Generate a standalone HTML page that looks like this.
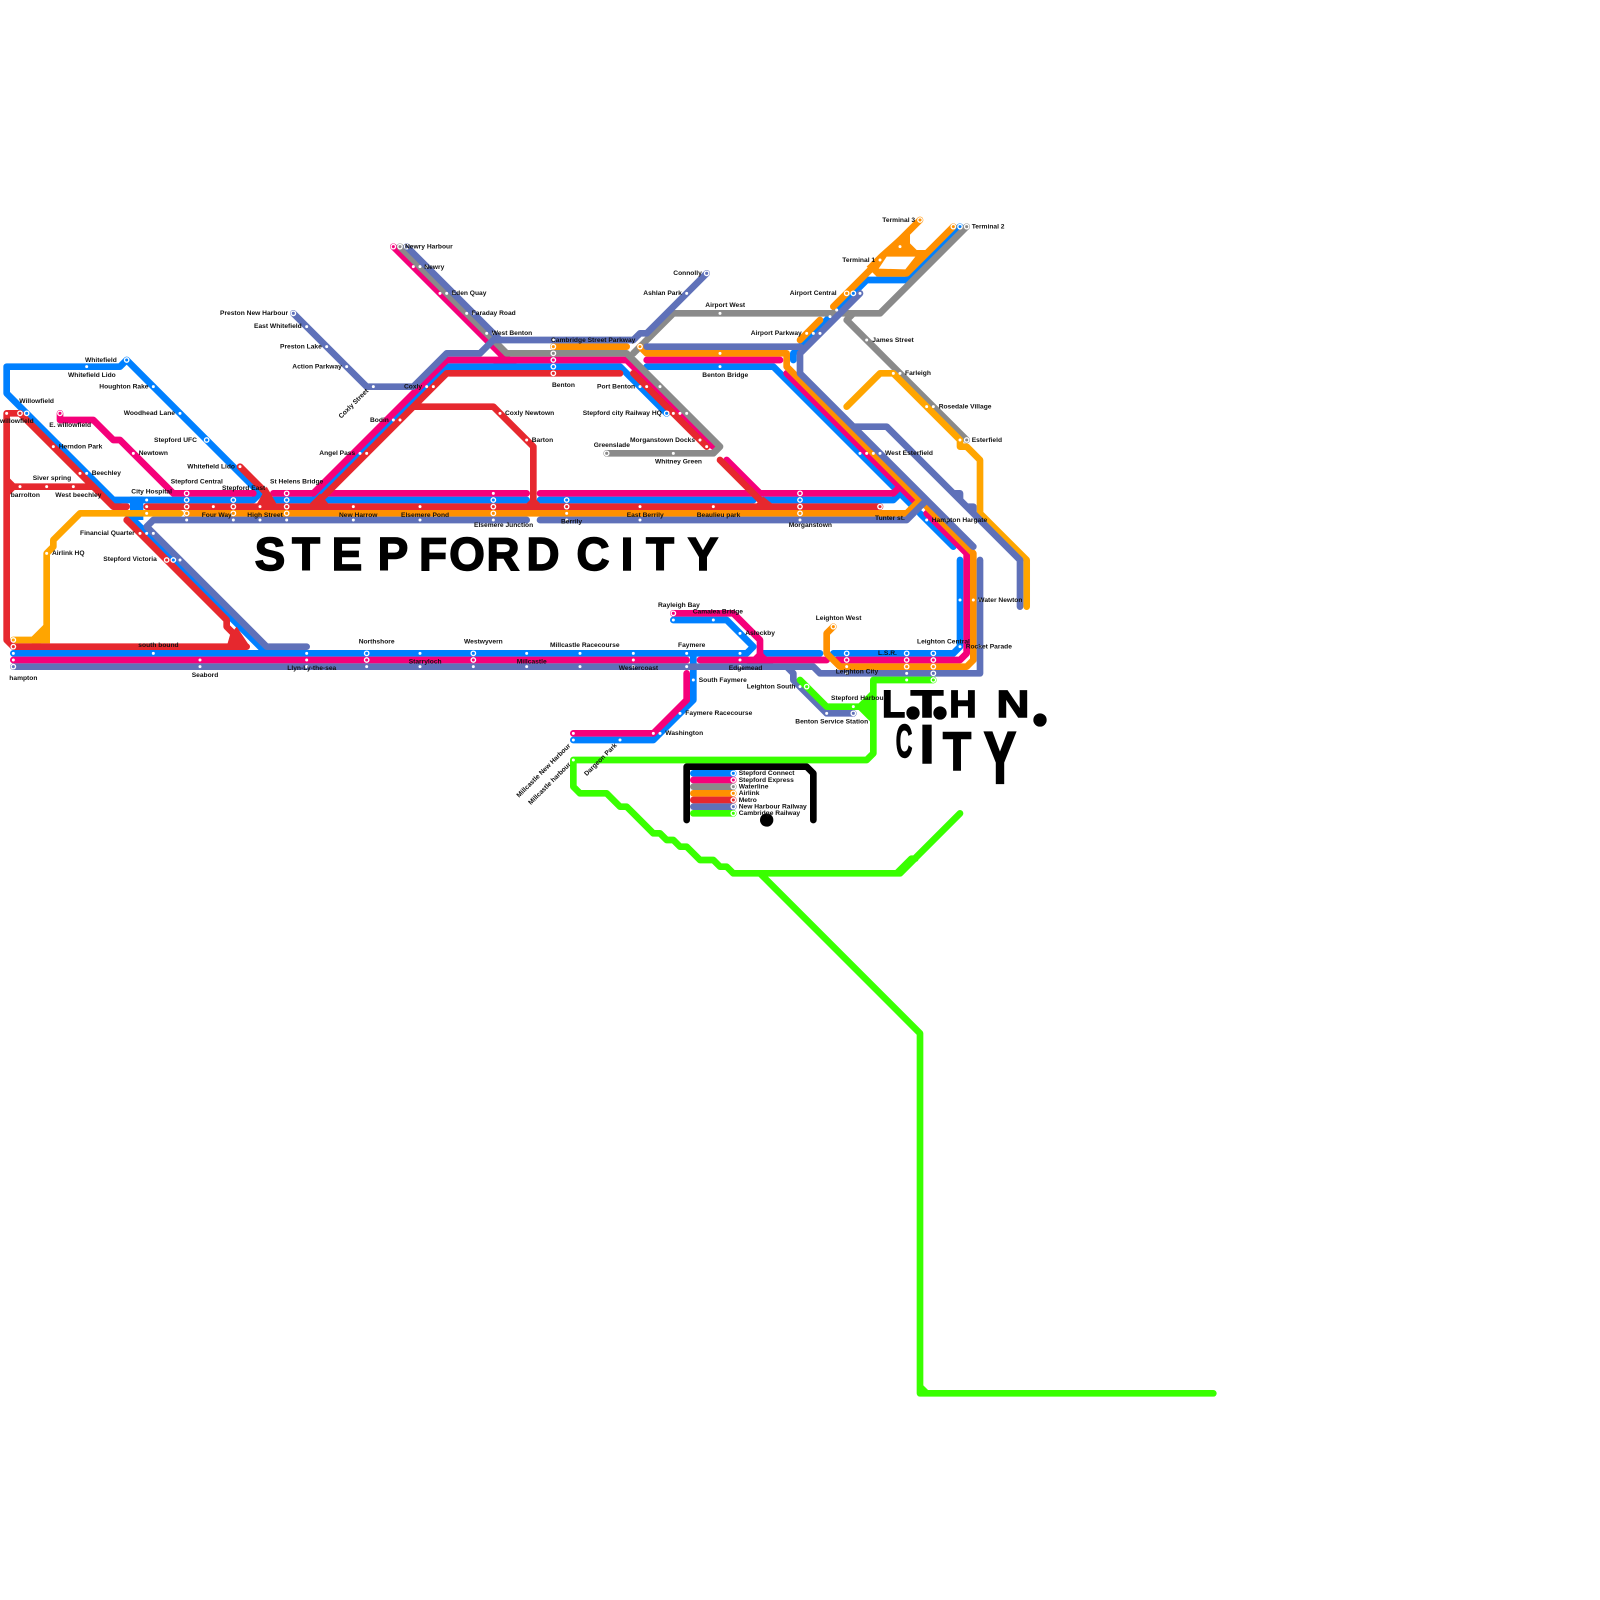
<!DOCTYPE html>
<html><head><meta charset="utf-8"><title>Stepford City</title>
<style>
html,body{margin:0;padding:0;background:#fff}
svg{display:block}
.lb text{font:bold 6.67px "Liberation Sans",sans-serif;fill:#111}
.tt text{font-family:"Liberation Sans",sans-serif;font-weight:bold;fill:#000;stroke:#000;stroke-width:1.4px}
</style></head><body>
<svg xmlns="http://www.w3.org/2000/svg" width="1600" height="1600" viewBox="0 0 1600 1600">
<rect width="1600" height="1600" fill="#fff"/>
<g transform="scale(6.6667)" fill="none" stroke-width="1" stroke-linecap="round" stroke-linejoin="round">
<!-- Stepford Connect -->
<path stroke="#0080ff" d="M19,54L18,55L1,55L1,59L40,98L46,98M19,54L38,73L39,74L38,75L17,75M41,75L47,75L67,55L93,55L100,62M49,75L79,75M81,75L113,75M114,75L134,75L135,74M97,55L116,55L137,76M138,77L143,82M119,54L119,53L130,42L136,42L144,34M2,98L112,98L113,97L109,93L101,93M114,98L123,98M125,98L143,98L144,97L144,84M104,98L104,105L98,111L86,111"/>
<path stroke="#0080ff" stroke-width="2" stroke-linecap="butt" d="M20.5,74.5L20.5,78"/>
<!-- Stepford Express -->
<path stroke="#f5007a" d="M9,62L9,63L14,63L17,66L18,66L26,74L38,74M41,74L47,74L67,54L94,54L107,67M49,74L79,74M81,74L134,74L135,73M59,37L76,54L75,54M109,69L114,74M97,54L117,54M118,56L137,75M139,77L145,83L145,98L144,99L125.5,99M2,99L103,99M105,99L124,99M101,92L110,92L114,96L114,99M103,101L103,105L98,110L86,110"/>
<path fill="#f5007a" stroke="none" d="M112,99.5L113.5,98L114.5,98L116,99.5ZM74,54.5L75.5,52.5L77.5,54.5Z"/>
<!-- Waterline -->
<path stroke="#8a8a8a" d="M60,37L76,53L94,53L108,67L107,68L91,68M95,53L101,47L132,47L145,34M128,47L127,48L145,66"/>
<!-- Airlink -->
<path stroke="#ff9000" d="M28,77L136,77L138,75L118,55L118,53L97,53L96,52M83,52L94,52M125,94L124,95L124,98L126,100L145,100L146,99L146,83L139,76M120,51L123,48M125,46L138,33M143,34L136,41L132,41"/>
<path fill="#ff9000" stroke="none" d="M132,38L136.5,34L136.5,36.5L137.5,37.5L140,37.5L136,41.5L131.5,41.5L130,40Z"/>
<path fill="#fff" stroke="none" d="M133,38.5L137.3,38.5L135.8,40.4L131.8,40.3Z"/>
<!-- Airlink light -->
<path stroke="#ffa500" d="M2,96L6,96L7,95L7,83L8,82L8,81L12,77L27,77M127,61L132,56L134,56L144,66L144,67L145,67L147,69L147,77L154,84L154,91"/>
<path fill="#ffa500" stroke="none" d="M4.75,95.5L6.5,93.75L7.5,93.75L7.5,96.5L4.75,96.5Z"/>
<!-- Metro -->
<path stroke="#e6282e" d="M1,62L3,62L17,76L19,76M1,62L1,96L2,97L37,97M1,72L2,73L14,73M1,74L2,73M22,76L132,76M36,70L40,74L40,76M47,76L67,56L93,56M62,61L74,61L80,67L80,76M19,78L34,93L34,94L35,95M95,56L106,67M108,69L115,76"/>
<path fill="#e6282e" stroke="none" d="M38,76.5L40,73L42,76.5ZM45.5,76.5L48,74L50,76.5ZM78,76.5L80,74.5L82,76.5ZM112.5,76.5L114.5,74.5L117,76.5ZM34.5,95.25L35.5,94L37.5,97L34,97Z"/>
<!-- New Harbour -->
<path stroke="#5f71b9" d="M46,97L40,97L22,79L23,78L79,78M81,78L136,78L139,75M120,53L120,56L146,82M97,52L120,52M123,50L129,44M120,53L123,50M128,64L133,64L153,84L153,91M61,37L74,50L75,51M74,51L95,51L96,50L97,50L106,41M44,47L55,58L62,58L67,53L72,53L74,51M2,100L122,100L123,101L147,101L147,84M118,100L119,101L119,102L124,107L128,107M143,74L144,74L144,75M145,76L146,76L146,77"/>
<!-- Cambridge -->
<path stroke="#39ff00" d="M140,102L131,102L131,113L130,114L86,114L86,118L87,119L91,119L93,121L94,121L98,125L99,125L100,126L101,126L102,127L103,127L105,129L107,129L108,130L109,130L110,131L135,131L144,122M114,131L138,155L138,209L182,209M138,208L139,209M120,102L124,106L129,106L131,104M129,106L131,108M134.5,131L136.7,128.8L137.3,128.8"/>
<path fill="#39ff00" stroke="none" d="M129,105.5L131,103.5L131,108.5L129,106.5Z"/>
<!-- Legend -->
<path stroke="#000" d="M103,123L103,115L121,115L122,116L122,123"/>
<path stroke="#0080ff" d="M104,116L110,116"/><path stroke="#f5007a" d="M104,117L110,117"/><path stroke="#8a8a8a" d="M104,118L110,118"/><path stroke="#ff9000" d="M104,119L110,119"/><path stroke="#e6282e" d="M104,120L110,120"/><path stroke="#5f71b9" d="M104,121L110,121"/><path stroke="#39ff00" d="M104,122L110,122"/>
<circle cx="115" cy="123" r="1" fill="#000"/>
<!-- station dots -->
<path stroke="#fff" stroke-width=".45" d="M1,62h0M13,55h0M23,58h0M27,62h0M13,71h0M22,75h0M22,80h0M8,67h0M12,71h0M3,73h0M7,73h0M11,73h0M36,70h0M22,76h0M32,76h0M39,76h0M53,76h0M21,80h0M55,68h0M60,63h0M65,58h0M20,68h0M22,77h0M7,83h0M28,78h0M35,78h0M39,78h0M43,78h0M53,78h0M23,80h0M27,84h0M46,49h0M49,52h0M52,55h0M56,58h0M54,68h0M59,63h0M64,58h0M2,98h0M23,98h0M46,98h0M63,98h0M79,98h0M87,98h0M95,98h0M103,98h0M111,98h0M2,99h0M30,99h0M46,99h0M95,99h0M111,99h0M30,100h0M46,100h0M55,100h0M63,100h0M71,100h0M79,100h0M87,100h0M95,100h0M103,100h0M111,100h0M101,93h0M107,93h0M111,95h0M104,102h0M62,40h0M63,40h0M64,40h0M66,44h0M67,44h0M68,44h0M70,47h0M71,47h0M73,50h0M74,50h0M83,51h0M96,51h0M103,44h0M108,47h0M108,53h0M108,55h0M74,74h0M74,78h0M85,77h0M85,78h0M96,76h0M96,78h0M107,76h0M63,76h0M63,78h0M96,58h0M97,58h0M99,58h0M101,62h0M102,62h0M103,62h0M105,66h0M106,67h0M101,68h0M75,62h0M79,66h0M65,58h0M120,78h0M129,68h0M130,68h0M131,68h0M132,68h0M139,78h0M142,78h0M138.5,76.5h0M135,37h0M132,39h0M129,44h0M125.5,46.5h0M121,50h0M122,50h0M123,50h0M124.5,47.5h0M130,51h0M134,56h0M135,56h0M139,61h0M140,61h0M144,66h0M111,98h0M127,100h0M127,101h0M136,101h0M136,102h0M144,97h0M147,97h0M144,90h0M146,90h0M147,90h0M120,103h0M128,106h0M124,107h0M86,110h0M98,110h0M99,110h0M86,111h0M93,111h0M102,107h0M86,114h0"/>
<!-- interchange rings -->
<g stroke="#fff" stroke-width=".2">
<circle cx="19" cy="54" r=".33"/><circle cx="31" cy="66" r=".33"/><circle cx="4" cy="62" r=".33"/><circle cx="3" cy="62" r=".33"/><circle cx="9" cy="62" r=".33"/><circle cx="28" cy="74" r=".33"/><circle cx="28" cy="75" r=".33"/><circle cx="28" cy="76" r=".33"/><circle cx="28" cy="77" r=".33"/><circle cx="35" cy="75" r=".33"/><circle cx="35" cy="76" r=".33"/><circle cx="35" cy="77" r=".33"/><circle cx="43" cy="74" r=".33"/><circle cx="43" cy="75" r=".33"/><circle cx="43" cy="76" r=".33"/><circle cx="43" cy="77" r=".33"/><circle cx="25" cy="84" r=".33"/><circle cx="26" cy="84" r=".33"/><circle cx="2" cy="96" r=".33"/><circle cx="2" cy="97" r=".33"/><circle cx="2" cy="100" r=".33"/><circle cx="44" cy="47" r=".33"/><circle cx="55" cy="98" r=".33"/><circle cx="55" cy="99" r=".33"/><circle cx="71" cy="98" r=".33"/><circle cx="71" cy="99" r=".33"/><circle cx="101" cy="92" r=".33"/><circle cx="59" cy="37" r=".33"/><circle cx="60" cy="37" r=".33"/><circle cx="61" cy="37" r=".33"/><circle cx="83" cy="52" r=".33"/><circle cx="83" cy="53" r=".33"/><circle cx="83" cy="54" r=".33"/><circle cx="83" cy="55" r=".33"/><circle cx="83" cy="56" r=".33"/><circle cx="96" cy="52" r=".33"/><circle cx="106" cy="41" r=".33"/><circle cx="74" cy="75" r=".33"/><circle cx="74" cy="76" r=".33"/><circle cx="74" cy="77" r=".33"/><circle cx="85" cy="75" r=".33"/><circle cx="85" cy="76" r=".33"/><circle cx="100" cy="62" r=".33"/><circle cx="91" cy="68" r=".33"/><circle cx="120" cy="74" r=".33"/><circle cx="120" cy="75" r=".33"/><circle cx="120" cy="76" r=".33"/><circle cx="120" cy="77" r=".33"/><circle cx="132" cy="76" r=".33"/><circle cx="138" cy="33" r=".33"/><circle cx="143" cy="34" r=".33"/><circle cx="144" cy="34" r=".33"/><circle cx="145" cy="34" r=".33"/><circle cx="127" cy="44" r=".33"/><circle cx="128" cy="44" r=".33"/><circle cx="145" cy="66" r=".33"/><circle cx="125" cy="94" r=".33"/><circle cx="127" cy="98" r=".33"/><circle cx="127" cy="99" r=".33"/><circle cx="136" cy="98" r=".33"/><circle cx="136" cy="99" r=".33"/><circle cx="136" cy="100" r=".33"/><circle cx="140" cy="98" r=".33"/><circle cx="140" cy="99" r=".33"/><circle cx="140" cy="100" r=".33"/><circle cx="140" cy="101" r=".33"/><circle cx="140" cy="102" r=".33"/><circle cx="121" cy="103" r=".33"/><circle cx="128" cy="107" r=".33"/>
<circle cx="110" cy="116" r=".33"/><circle cx="110" cy="117" r=".33"/><circle cx="110" cy="118" r=".33"/><circle cx="110" cy="119" r=".33"/><circle cx="110" cy="120" r=".33"/><circle cx="110" cy="121" r=".33"/><circle cx="110" cy="122" r=".33"/>
</g>
</g>
<!-- titles -->
<g class="tt">
<text font-size="46" y="570" text-anchor="middle" x="270 306 347 393 433 467 503 543 570 593 627 660 703">STEPFORD CITY</text>
<text font-size="38" x="882" y="717">L</text>
<text font-size="38" transform="translate(927,717) scale(1.4,1)" text-anchor="middle">T</text>
<text font-size="38" x="963" y="717" text-anchor="middle">H</text>
<text font-size="38" transform="translate(1013,717) scale(1.2,1)" text-anchor="middle">N</text>
<text font-size="46" transform="translate(904,757) scale(.5,1)" text-anchor="middle">C</text>
<text font-size="55" x="927" y="763" text-anchor="middle">I</text>
<text font-size="55" transform="translate(957,770) scale(.85,1)" text-anchor="middle">T</text>
<text font-size="46" transform="translate(1000,783) scale(1.05,1.6)" text-anchor="middle">Y</text>
</g>
<circle cx="913" cy="713" r="6.67"/><circle cx="940" cy="713" r="6.67"/><circle cx="1040" cy="720" r="6.67"/>
<!-- labels -->
<g class="lb">
<text x="220" y="315">Preston New Harbour</text><text x="254" y="328">East Whitefield</text><text x="280" y="348.5">Preston Lake</text><text x="292.3" y="368.5">Action Parkway</text>
<text transform="translate(355,405) rotate(-45)" text-anchor="middle">Coxly Street</text>
<text x="85" y="361.8">Whitefield</text><text x="68" y="376.8">Whitefield Lido</text><text x="99.3" y="388.5">Houghton Rake</text><text x="19.3" y="403.2">Willowfield</text><text x="123.7" y="415.2">Woodhead Lane</text><text x="0" y="423.2">willowfield</text><text x="49.3" y="426.8">E. willowfield</text><text x="370" y="421.8">Bodin</text><text x="154" y="441.8">Stepford UFC</text><text x="58.7" y="448.5">Herndon Park</text><text x="138.7" y="455.2">Newtown</text><text x="319.3" y="455.2">Angel Pass</text><text x="187.3" y="468.5">Whitefield Lido</text><text x="91.7" y="475.2">Beechley</text><text x="32.7" y="480.2">Siver spring</text><text x="170.7" y="483.5">Stepford Central</text><text x="270" y="483.5">St Helens Bridge</text><text x="222" y="490.2">Stepford East</text><text x="131.3" y="493.5">City Hospital</text><text x="10.7" y="496.8">barrolton</text><text x="55.3" y="496.8">West beechley</text><text x="201.7" y="516.8">Four Way</text><text x="247.3" y="516.8">High Street</text><text x="339" y="516.8">New Harrow</text><text x="80" y="535.2">Financial Quarter</text><text x="52" y="555.2">Airlink HQ</text><text x="103.3" y="560.8">Stepford Victoria</text>
<text x="138.3" y="646.8">south bound</text><text x="358.7" y="643.5">Northshore</text><text x="9.3" y="680.2">hampton</text><text x="191.7" y="676.8">Seabord</text><text x="287.3" y="670.2">Llyn-Ly-the-sea</text>
<text x="405" y="248.5">Newry Harbour</text><text x="424.3" y="268.8">Newry</text><text x="451.7" y="295.2">Eden Quay</text><text x="471.7" y="315.2">Faraday Road</text><text x="491.7" y="335.2">West Benton</text><text x="673.3" y="275.2">Connolly</text><text x="643.3" y="295.2">Ashlan Park</text><text x="705.3" y="306.8">Airport West</text><text x="750.7" y="335.2">Airport Parkway</text><text x="551" y="341.8">Cambridge Street Parkway</text><text x="404" y="388.5">Coxly</text><text x="552" y="386.8">Benton</text><text x="597" y="388.5">Port Benton</text><text x="702.3" y="376.8">Benton Bridge</text><text x="505" y="415.2">Coxly Newtown</text><text x="582.7" y="415.2">Stepford city Railway HQ</text><text x="531.7" y="441.8">Barton</text><text x="630" y="441.8">Morganstown Docks</text><text x="593.7" y="446.8">Greenslade</text><text x="655" y="463.5">Whitney Green</text><text x="401" y="516.8">Elsemere Pond</text><text x="626.7" y="516.8">East Berrily</text><text x="696.7" y="516.8">Beaulieu park</text><text x="474" y="526.8">Elsemere Junction</text><text x="561" y="523.5">Berrily</text>
<text x="882.3" y="221.8">Terminal 3</text><text x="971.7" y="228.5">Terminal 2</text><text x="842.3" y="261.8">Terminal 1</text><text x="789.7" y="295.2">Airport Central</text><text x="872.3" y="341.8">James Street</text><text x="905" y="375.2">Farleigh</text><text x="938.7" y="408.5">Rosedale Village</text><text x="971.7" y="441.8">Esterfield</text><text x="885" y="455.2">West Esterfield</text><text x="875" y="520.2">Tunter st.</text><text x="931.7" y="521.8">Hampton Hargate</text><text x="788.7" y="526.8">Morganstown</text>
<text x="658" y="606.8">Rayleigh Bay</text><text x="692.7" y="613.5">Camalea Bridge</text><text x="464" y="643.5">Westwyvern</text><text x="550" y="646.8">Millcastle Racecourse</text><text x="678" y="646.8">Faymere</text><text x="408.7" y="663.5">Starryloch</text><text x="516.7" y="663.5">Millcastle</text><text x="618.7" y="670.2">Westercoast</text><text x="698.7" y="681.8">South Faymere</text>
<text x="745.3" y="635.2">Aslockby</text><text x="815.7" y="620.2">Leighton West</text><text x="917" y="643.5">Leighton Central</text><text x="965.7" y="648.5">Rocket Parade</text><text x="978.3" y="601.8">Water Newton</text><text x="878" y="655.2">L.S.R.</text><text x="728.7" y="670.2">Edgemead</text><text x="835.7" y="673.5">Leighton City</text><text x="746.7" y="688.5">Leighton South</text><text x="831" y="700.2">Stepford Harbour</text><text x="795.3" y="723.5">Benton Service Station</text><text x="685.3" y="715.2">Faymere Racecourse</text><text x="665.3" y="735.2">Washington</text>
<text transform="translate(545,772) rotate(-45)" text-anchor="middle">Millcastle New Harbour</text><text transform="translate(551,785) rotate(-45)" text-anchor="middle">Millcastle harbour</text><text transform="translate(602,761) rotate(-45)" text-anchor="middle">Dargeon Park</text>
<text x="738.7" y="775.2">Stepford Connect</text><text x="738.7" y="781.8">Stepford Express</text><text x="738.7" y="788.5">Waterline</text><text x="738.7" y="795.2">Airlink</text><text x="738.7" y="801.8">Metro</text><text x="738.7" y="808.5">New Harbour Railway</text><text x="738.7" y="815.2">Cambridge Railway</text>
</g>
</svg>
</body></html>
